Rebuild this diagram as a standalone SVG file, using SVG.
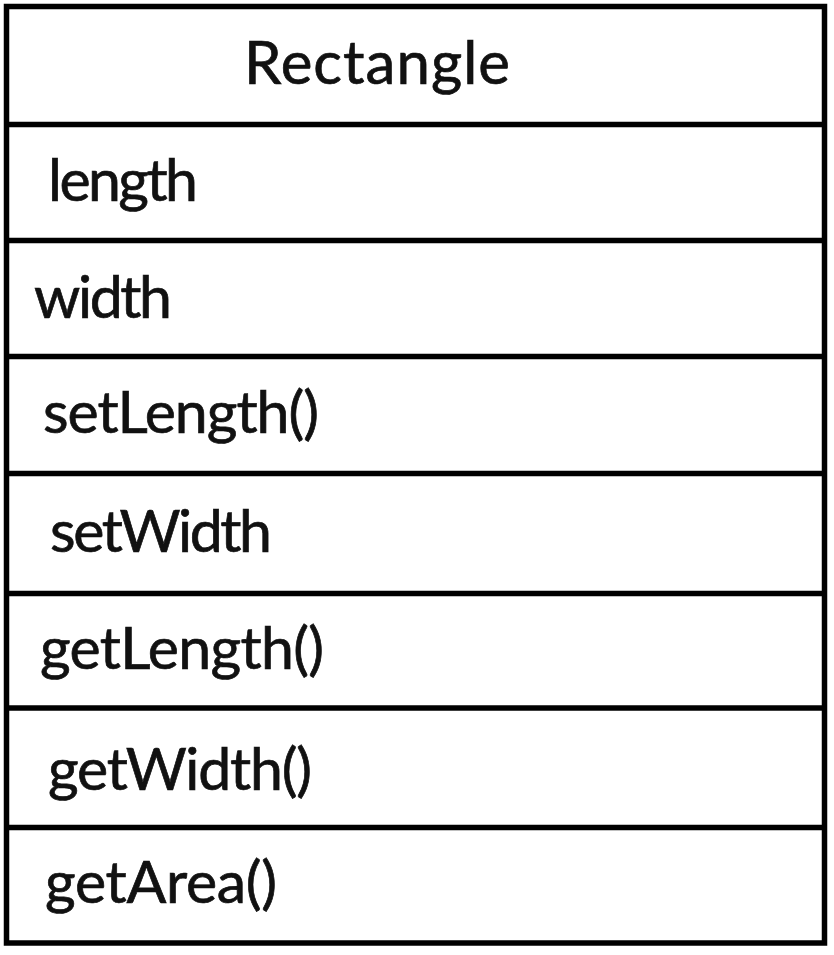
<svg xmlns="http://www.w3.org/2000/svg" width="834" height="955" viewBox="0 0 834 955">
  <style>
    .frame { fill: #ffffff; stroke: #000000; stroke-width: 5.5; }
    .sep { stroke: #000000; stroke-width: 5.5; }
    .lbl { font-family: Lato, "Open Sans", "Liberation Sans", sans-serif; font-size: 59px; fill: #111111; stroke: #111111; stroke-width: 0.7; }
    .title { font-size: 60px; }
  </style>
  <rect width="834" height="955" fill="#ffffff"/>

  <!-- Rectangle class box -->
  <g id="class-rectangle">
    <rect class="frame" x="6.5" y="6.5" width="818" height="936.5"/>
    <g id="separators">
      <line class="sep" x1="6.5" y1="124.5" x2="824.5" y2="124.5"/>
      <line class="sep" x1="6.5" y1="240.5" x2="824.5" y2="240.5"/>
      <line class="sep" x1="6.5" y1="356.5" x2="824.5" y2="356.5"/>
      <line class="sep" x1="6.5" y1="473.5" x2="824.5" y2="473.5"/>
      <line class="sep" x1="6.5" y1="593.5" x2="824.5" y2="593.5"/>
      <line class="sep" x1="6.5" y1="708" x2="824.5" y2="708"/>
      <line class="sep" x1="6.5" y1="827.5" x2="824.5" y2="827.5"/>
    </g>

    <g id="name">
      <text class="lbl title" x="244" y="84" textLength="266">Rectangle</text>
    </g>
    <g id="attributes">
      <text class="lbl" x="48" y="201" textLength="150">length</text>
      <text class="lbl" x="34" y="318" textLength="138">width</text>
    </g>
    <g id="operations">
      <text class="lbl" x="43" y="433" textLength="276">setLength()</text>
      <text class="lbl" x="50" y="552" textLength="222">setWidth</text>
      <text class="lbl" x="40" y="669" textLength="284">getLength()</text>
      <text class="lbl" x="48" y="790" textLength="264">getWidth()</text>
      <text class="lbl" x="45" y="903" textLength="232">getArea()</text>
    </g>
  </g>
</svg>
